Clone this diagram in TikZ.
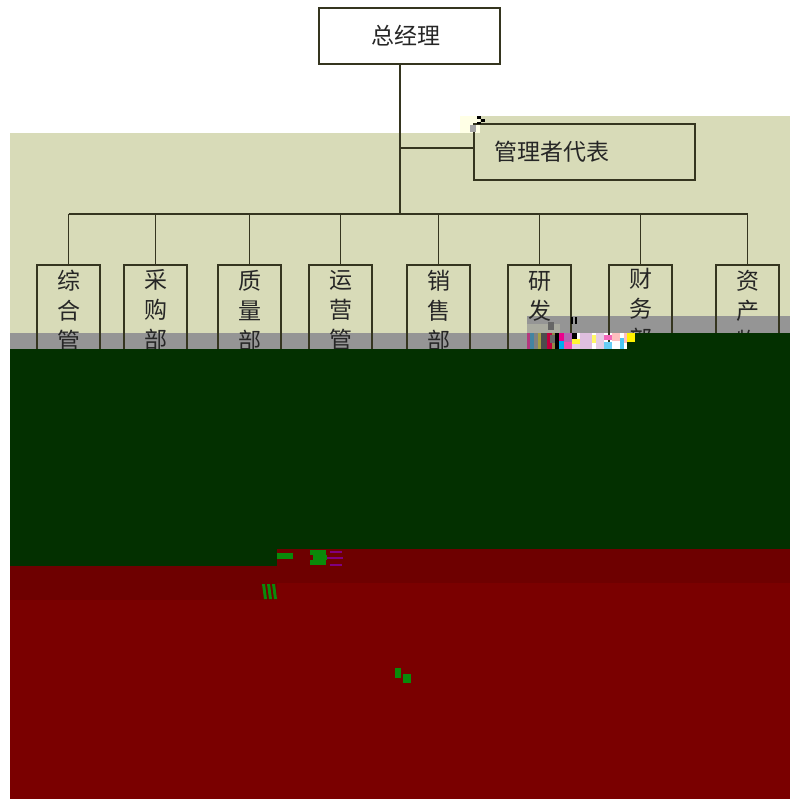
\documentclass[tikz,border=0pt]{standalone}
\usepackage{fontspec}
\setmainfont{Noto Sans CJK SC}[Scale=1]
\definecolor{khaki}{HTML}{D8DBB8}
\definecolor{band}{HTML}{959595}
\definecolor{dgreen}{HTML}{033000}
\definecolor{dred}{HTML}{7A0000}
\definecolor{dredb}{HTML}{6E0000}
\definecolor{inkc}{HTML}{35351F}
\definecolor{pale}{HTML}{FFFFE6}
\definecolor{gli}{HTML}{0A8A0A}
\tikzset{
  x=1pt,y=-1pt,
  orgbox/.style={draw=inkc,line width=1.3pt,rectangle,inner sep=0pt,text=black!85,font=\fontsize{23}{30}\selectfont},
  wide/.style={orgbox,minimum height=56pt},
  tall/.style={orgbox,minimum width=63pt,align=center,text width=63pt},
  link/.style={draw=inkc,line width=1.3pt},
}
\begin{document}
\begin{tikzpicture}
\useasboundingbox (0,0) rectangle (790,799);
% background zones
\fill[khaki] (10,133) rectangle (790,333);
\fill[khaki] (480,116) rectangle (790,133);
\fill[pale] (460,116) rectangle (480,133);
\fill[band] (10,333) rectangle (527,349);
\fill[band] (527,316) rectangle (790,333);
% nodes
\node[wide,minimum width=181pt] (top) at (409.5,36) {\raisebox{1pt}{总经理}\hspace*{7pt}};
\node[wide,minimum width=221pt,text width=180pt,align=left] (rep) at (584.5,152) {\raisebox{1pt}{管理者代表}};
\node[tall,minimum height=92pt] (a) at (68.5,311) {综\\合\\管};
\node[tall,minimum height=90pt] (b) at (155.5,310) {采\\购\\部};
\node[tall,minimum height=92pt] (c) at (249.5,311) {质\\量\\部};
\node[tall,minimum height=90pt] (d) at (340.5,310) {运\\营\\管};
\node[tall,minimum height=92pt] (e) at (438.5,311) {销\\售\\部};
\node[tall,minimum height=92pt] (f) at (539.5,311) {研\\发\\部};
\node[tall,minimum height=88pt] (g) at (640.5,309) {财\\务\\部};
\node[tall,minimum height=92pt] (h) at (747.5,311) {资\\产\\物};
% connectors
\coordinate (j2) at (400,214);
\coordinate (ja) at (a.north |- j2);
\coordinate (jh) at (h.north |- j2);
\draw[link] (top.south -| j2) -- (j2);
\coordinate (j1) at (400,148);
\draw[link] (j1) -- (rep.west |- j1);
\draw[link] (ja) -- (jh);
\foreach \n in {a,b,c,d,e,f,g,h}{
  \draw[link] (\n.north |- j2) -- (\n.north);
}
% covering zones
\fill[dgreen] (10,349) rectangle (790,566);
\fill[dgreen] (627,333) rectangle (790,349);
\fill[dredb] (277,549) rectangle (790,566);
\fill[dred] (10,566) rectangle (790,799);
\fill[dredb] (10,566) rectangle (277,600);
\fill[dredb] (277,566) rectangle (790,583);
% corrupted blocks near 研发
\fill[band!70!khaki] (527,324) rectangle (560,333);
\foreach \x/\y/\w/\h/\c in {
 527/333/3/16/magenta!70!black,530/333/4/16/cyan!60!black,534/333/4/16/gray,538/333/3/16/yellow!60!black,
 541/333/6/16/black!70,547/333/5/16/purple,552/333/3/16/yellow!50!black,555/333/4/16/black,
 559/333/5/16/magenta,559/341/5/8/cyan,564/333/8/9/violet!60,564/342/8/7/magenta!70,572/333/5/6/black,
 572/339/8/5/yellow!80,572/344/8/5/white!80!violet,580/333/12/16/violet!25,592/335/4/8/yellow!60,
 596/333/8/16/violet!20,604/335/8/5/magenta!60,604/342/8/7/cyan!60,612/333/8/8/pink,612/341/8/8/white,
 620/338/4/11/cyan!70,624/333/3/10/pink,627/333/8/9/yellow}{
  \fill[\c] (\x,\y) rectangle ++(\w,\h);
}
\fill[black] (571,317) rectangle ++(2,7);
\fill[black] (575,317) rectangle ++(2,7);
\fill[black!60] (548,322) rectangle ++(6,8);
\fill[black!60] (550,335) rectangle ++(5,8);
% corrupted block near 管理者代表
\fill[black] (477,116) rectangle ++(4,3);
\fill[black] (481,119) rectangle ++(4,3);
\fill[black] (477,122) rectangle ++(4,2);
\fill[gray!70] (470,125) rectangle ++(6,7);
% corrupted blocks on the dark zones
\fill[gli] (310,550) rectangle ++(16,5);
\fill[gli] (313,555) rectangle ++(14,5);
\fill[gli] (310,560) rectangle ++(16,5);
\fill[violet] (330,551) rectangle ++(12,2);
\fill[violet] (327,557) rectangle ++(16,2);
\fill[violet] (330,564) rectangle ++(12,2);
\fill[gli] (277,553) rectangle ++(16,6);
\foreach \x in {262,267,272}{ \fill[gli] (\x,584) -- ++(3,0) -- ++(2,15) -- ++(-3,0) -- cycle; }
\fill[gli] (395,668) rectangle ++(6,10);
\fill[gli] (403,674) rectangle ++(8,9);
\end{tikzpicture}
\end{document}
